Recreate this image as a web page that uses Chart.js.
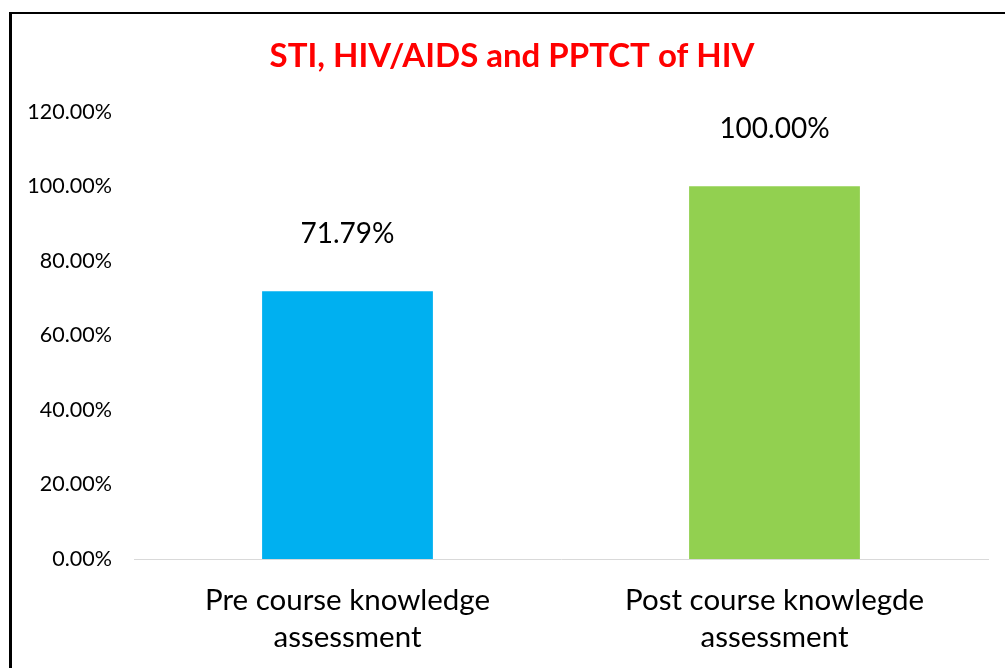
<!DOCTYPE html>
<html>
<head>
<meta charset="utf-8">
<script src="https://cdn.jsdelivr.net/npm/chart.js@4/dist/chart.umd.min.js"></script>
<style>
  html, body { margin: 0; padding: 0; background: #fff; }
  #wrap { position: relative; width: 1005px; height: 668px; }
  #frame {
    position: absolute; left: 9px; top: 12px; width: 1000px; height: 660px;
    border-left: 3px solid #000; border-top: 2px solid #000; pointer-events: none;
  }
  canvas { position: absolute; left: 0; top: 0; }
</style>
</head>
<body>
<div id="wrap">
  <canvas id="chart" width="1005" height="668"></canvas>
  <div id="frame"></div>
</div>
<script>
// ── Data ──────────────────────────────────────
const categories = [
  ['Pre course knowledge', 'assessment'],
  ['Post course knowlegde', 'assessment']
];
const scores     = [0.7179, 1.0];
const barColors  = ['#00B0F0', '#92D050'];
const titleText  = 'STI, HIV/AIDS and PPTCT of HIV';

const FONT = 'Lato, "Open Sans", sans-serif';
const pct  = v => (v * 100).toFixed(2) + '%';

// ── Value labels above bars ───────────────────
const valueLabels = {
  id: 'valueLabels',
  afterDatasetsDraw(chart) {
    const ctx = chart.ctx;
    const meta = chart.getDatasetMeta(0);
    ctx.save();
    ctx.font = '28px ' + FONT;
    ctx.fillStyle = '#000';
    ctx.textAlign = 'center';
    ctx.textBaseline = 'middle';
    meta.data.forEach((bar, i) => {
      ctx.fillText(pct(scores[i]), bar.x, bar.y - 57);
    });
    ctx.restore();
  }
};

// title sits a bit right of the canvas centre in the original
const titleShift = {
  id: 'titleShift',
  afterLayout(chart) {
    const t = chart.titleBlock;
    if (t) { t.left += 18; t.right += 18; }
  }
};

new Chart(document.getElementById('chart'), {
  type: 'bar',
  data: {
    labels: categories,
    datasets: [{
      data: scores,
      backgroundColor: barColors,
      borderWidth: 0,
      categoryPercentage: 0.8,
      barPercentage: 0.5
    }]
  },
  options: {
    responsive: false,
    animation: false,
    layout: { padding: { left: 0, right: 17, top: 0, bottom: 0 } },
    plugins: {
      legend: { display: false },
      tooltip: { enabled: false },
      title: {
        display: true,
        text: titleText,
        color: '#FF0000',
        font: { family: FONT, size: 33, weight: 'bold', lineHeight: 1.2 },
        padding: { top: 37, bottom: 35 }
      }
    },
    scales: {
      x: {
        grid: { display: false, drawTicks: false },
        border: { display: true, color: '#d9d9d9', width: 1 },
        ticks: {
          color: '#000',
          padding: 23,
          maxRotation: 0,
          font: { family: FONT, size: 29.5, lineHeight: 1.25 }
        },
        afterFit: s => { s.height = 109; }
      },
      y: {
        min: 0, max: 1.2,
        grid: { display: false, drawTicks: false },
        border: { display: false },
        ticks: {
          stepSize: 0.2,
          color: '#000',
          padding: 22,
          font: { family: FONT, size: 21.5 },
          callback: v => pct(v)
        },
        afterFit: s => { s.width = 134; }
      }
    }
  },
  plugins: [valueLabels, titleShift]
});
</script>
</body>
</html>
